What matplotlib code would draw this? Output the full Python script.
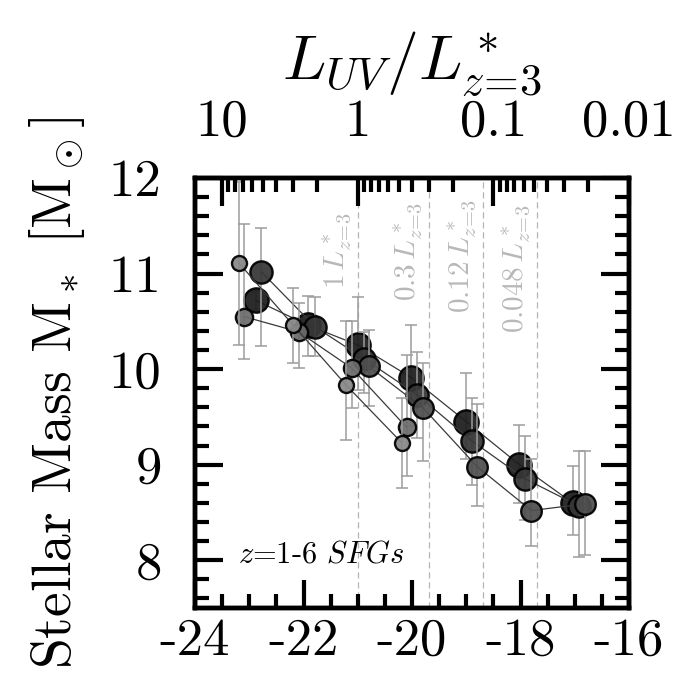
import numpy as np
import matplotlib
matplotlib.use('Agg')
import matplotlib.pyplot as plt
from matplotlib.ticker import FixedLocator, MultipleLocator

plt.rcParams['mathtext.fontset'] = 'cm'
plt.rcParams['font.family'] = 'cmr10'
plt.rcParams['axes.unicode_minus'] = False
plt.rcParams['axes.formatter.use_mathtext'] = True

# ---------------- data ----------------
M_STAR = -21.0  # M_UV corresponding to L*_{z=3}

s1_muv = [-23.19, -22.19, -21.21, -20.19]
s1_mass = [11.11, 10.46, 9.83, 9.23]
s1_err_lo = [0.86, 0.40, 0.57, 0.47]
s1_err_hi = [0.85, 0.39, 0.67, 0.47]

s2_muv = [-23.10, -22.09, -21.11, -20.10]
s2_mass = [10.55, 10.39, 10.01, 9.39]
s2_err_lo = [0.44, 0.38, 0.42, 0.51]
s2_err_hi = [0.97, 0.30, 0.49, 0.76]

s3_muv = [-22.88, -21.92, -20.99, -20.01, -19.00, -18.02, -17.04]
s3_mass = [10.72, 10.46, 10.25, 9.91, 9.45, 9.00, 8.60]
s3_err_lo = [0.10, 0.32, 0.47, 0.50, 0.39, 0.40, 0.34]
s3_err_hi = [0.10, 0.31, 0.51, 0.55, 0.51, 0.42, 0.39]

s4_muv = [-22.78, -21.78, -20.89, -19.90, -18.90, -17.91, -16.93]
s4_mass = [11.02, 10.44, 10.11, 9.73, 9.25, 8.85, 8.57]
s4_err_lo = [0.78, 0.30, 0.36, 0.45, 0.46, 0.43, 0.54]
s4_err_hi = [0.46, 0.32, 0.28, 0.45, 0.45, 0.45, 0.57]

s5_muv = [-20.80, -19.79, -18.80, -17.80, -16.81]
s5_mass = [10.03, 9.59, 8.98, 8.52, 8.59]
s5_err_lo = [0.42, 0.55, 0.41, 0.37, 0.54]
s5_err_hi = [0.38, 0.47, 0.65, 0.54, 0.55]

lum_marks = [1, 0.3, 0.12, 0.048]
lum_mark_labels = [r'$1\,L^*_{z\!=\!3}$', r'$0.3\,L^*_{z\!=\!3}$',
                   r'$0.12\,L^*_{z\!=\!3}$', r'$0.048\,L^*_{z\!=\!3}$']
lum_label_y = [11.24, 11.23, 11.18, 11.05]

top_major = [10, 1, 0.1, 0.01]
top_major_labels = ['10', '1', '0.1', '0.01']

bottom_ticks = [-24, -22, -20, -18, -16]
bottom_labels = ['-24', '-22', '-20', '-18', '-16']
left_ticks = [8, 9, 10, 11, 12]
left_labels = ['8', '9', '10', '11', '12']

# drawing order: darkest first, light on top
series = [
    (s3_muv, s3_mass, s3_err_lo, s3_err_hi, '#1c1c1c', 17.5),
    (s4_muv, s4_mass, s4_err_lo, s4_err_hi, '#363636', 16.0),
    (s5_muv, s5_mass, s5_err_lo, s5_err_hi, '#4e4e4e', 14.8),
    (s2_muv, s2_mass, s2_err_lo, s2_err_hi, '#6c6c6c', 12.4),
    (s1_muv, s1_mass, s1_err_lo, s1_err_hi, '#888888', 10.8),
]

def mag_of_lum(l):
    return M_STAR - 2.5 * np.log10(l)

# ---------------- figure ----------------
fig = plt.figure(figsize=(6.97, 7.0), dpi=100)
ax = fig.add_axes([0.2798, 0.1314, 0.6227, 0.6143])
ax.set_xlim(-24, -16)
ax.set_ylim(7.5, 12)

for lf in lum_marks:
    ax.axvline(mag_of_lum(lf), color='#b5b5b5', lw=0.9, ls=(0, (5, 3)), zorder=1)
for lf, lab, yy in zip(lum_marks, lum_mark_labels, lum_label_y):
    ax.text(mag_of_lum(lf) - 0.07, yy, lab, rotation=90, ha='right', va='center',
            color='#b8b8b8', fontsize=21, zorder=1)

z = 2
for mx, my, lo, hi, col, ms in series:
    ax.errorbar(mx, my, yerr=[lo, hi], fmt='none', ecolor='#9c9c9c',
                elinewidth=1.1, capsize=4.5, capthick=1.1, zorder=z)
    ax.plot(mx, my, '-', color='#3a3a3a', lw=0.9, zorder=z + 0.1)
    ax.plot(mx, my, 'o', ms=ms, mfc=col, mec='black', mew=1.7, alpha=0.93,
            zorder=z + 0.2)
    z += 1

ax.text(-23.21, 8.06, r'$z$=1-6 $SFGs$', fontsize=22, ha='left', va='center',
        zorder=10)

# ticks
ax.set_xticks(bottom_ticks)
ax.set_xticklabels(bottom_labels)
ax.xaxis.set_minor_locator(MultipleLocator(0.5))
ax.set_yticks(left_ticks)
ax.set_yticklabels(left_labels)
ax.yaxis.set_minor_locator(MultipleLocator(0.2))
ax.tick_params(which='major', direction='in', length=20, width=3, labelsize=38,
               right=True, top=False)
ax.tick_params(which='minor', direction='in', length=10, width=3,
               right=True, top=False)
ax.tick_params(axis='x', which='major', pad=7)
ax.tick_params(axis='y', which='major', pad=24)
for sp in ax.spines.values():
    sp.set_linewidth(3.2)

ax.set_ylabel(r'Stellar Mass M$_*$ [M$_\odot$]', fontsize=40, labelpad=16)

# top axis in L_UV / L*
ax2 = ax.twiny()
ax2.set_xlim(ax.get_xlim())
ax2.xaxis.set_major_locator(FixedLocator([mag_of_lum(l) for l in top_major]))
ax2.set_xticklabels(top_major_labels)
minor_l = [k * 10.0 ** d for d in range(-3, 2) for k in range(2, 10)]
minor_m = [mag_of_lum(l) for l in minor_l if -24 <= mag_of_lum(l) <= -16]
ax2.xaxis.set_minor_locator(FixedLocator(minor_m))
ax2.tick_params(which='major', direction='in', length=20, width=3, labelsize=38,
                pad=23)
ax2.tick_params(which='minor', direction='in', length=10, width=3)
for sp in ax2.spines.values():
    sp.set_linewidth(3.2)
ax2.set_xlabel(r'$L_{UV}/L^*_{z\!=\!3}$', fontsize=46, labelpad=14)

fig.savefig('out.png', dpi=100)
